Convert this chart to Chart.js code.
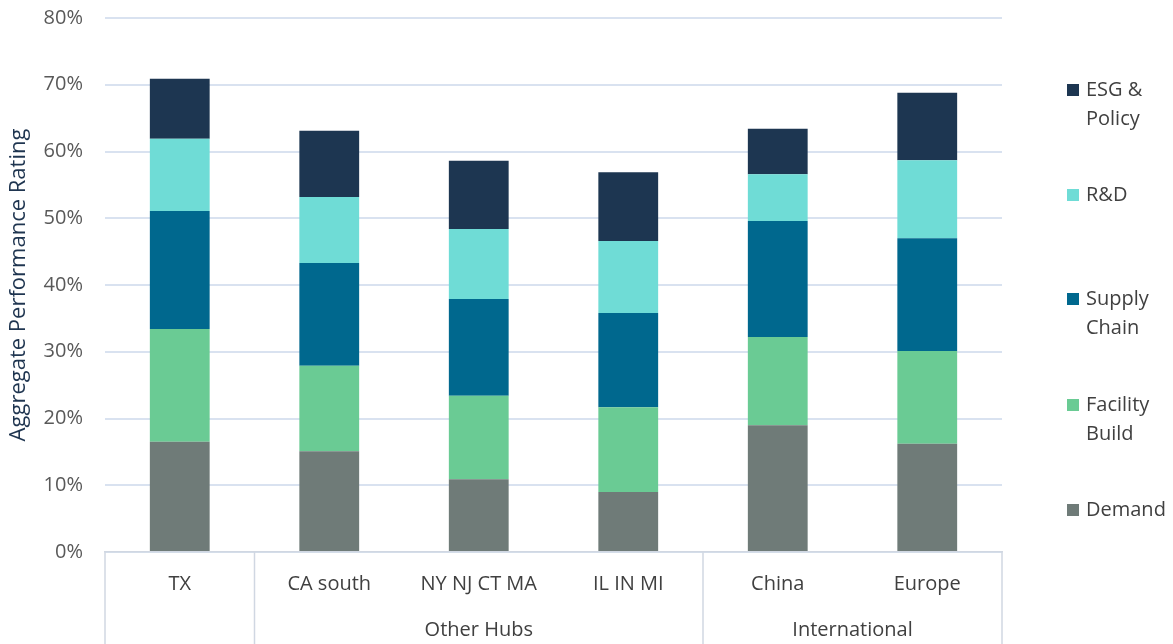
<!DOCTYPE html>
<html>
<head>
<meta charset="utf-8">
<script src="https://cdn.jsdelivr.net/npm/chart.js@4"></script>
<style>
  html, body { margin: 0; padding: 0; background: #fff; }
  #wrap { width: 1173px; height: 644px; }
</style>
</head>
<body>
<div id="wrap"><canvas id="chart"></canvas></div>
<script>
// categories and groups
const regions = ['TX', 'CA south', 'NY NJ CT MA', 'IL IN MI', 'China', 'Europe'];
const groups = [
  { label: '', from: 0, to: 0 },
  { label: 'Other Hubs', from: 1, to: 3 },
  { label: 'International', from: 4, to: 5 }
];

// series values (%)
const demand = [16.5, 15.1, 10.9, 9.0, 19.0, 16.2];
const facilityBuild = [16.9, 12.8, 12.5, 12.7, 13.2, 13.9];
const supplyChain = [17.7, 15.4, 14.5, 14.1, 17.4, 16.9];
const rnd = [10.8, 9.9, 10.5, 10.8, 7.0, 11.7];
const esgPolicy = [9.0, 9.9, 10.2, 10.3, 6.8, 10.1];

const fontFamily = '"Liberation Sans Narrow", "Open Sans", sans-serif';
const textColor = '#595959';

// legend drawn on the right, top item first
const legendPlugin = {
  id: 'sideLegend',
  afterDraw(chart) {
    const ctx = chart.ctx;
    const rows = [
      { ds: 4, lines: ['ESG &', 'Policy'], y: 90 },
      { ds: 3, lines: ['R&D'], y: 195 },
      { ds: 2, lines: ['Supply', 'Chain'], y: 299 },
      { ds: 1, lines: ['Facility', 'Build'], y: 405 },
      { ds: 0, lines: ['Demand'], y: 510 }
    ];
    ctx.save();
    ctx.font = '20px ' + fontFamily;
    ctx.textBaseline = 'middle';
    rows.forEach(r => {
      ctx.fillStyle = chart.data.datasets[r.ds].backgroundColor;
      ctx.fillRect(1067, r.y - 6, 12, 12);
      ctx.fillStyle = '#404040';
      r.lines.forEach((t, i) => ctx.fillText(t, 1086, r.y + i * 29));
    });
    ctx.restore();
  }
};

// group dividers and labels under the x axis
const groupAxisPlugin = {
  id: 'groupAxis',
  afterDraw(chart) {
    const ctx = chart.ctx;
    const x = chart.scales.x;
    const half = (x.getPixelForValue(1) - x.getPixelForValue(0)) / 2;
    const top = chart.chartArea.bottom;
    ctx.save();
    ctx.strokeStyle = '#d0d7e2';
    ctx.lineWidth = 1.5;
    const edges = [];
    groups.forEach(g => {
      edges.push(x.getPixelForValue(g.from) - half);
    });
    edges.push(x.getPixelForValue(groups[groups.length - 1].to) + half);
    edges.forEach(px => {
      ctx.beginPath();
      ctx.moveTo(px, top);
      ctx.lineTo(px, chart.height);
      ctx.stroke();
    });
    ctx.fillStyle = '#404040';
    ctx.font = '20px ' + fontFamily;
    ctx.textAlign = 'center';
    ctx.textBaseline = 'middle';
    groups.forEach(g => {
      if (!g.label) return;
      const cx = (x.getPixelForValue(g.from) + x.getPixelForValue(g.to)) / 2;
      ctx.fillText(g.label, cx, 630);
    });
    ctx.restore();
  }
};

new Chart(document.getElementById('chart'), {
  type: 'bar',
  data: {
    labels: regions,
    datasets: [
      { label: 'Demand', data: demand, backgroundColor: '#6f7b78' },
      { label: 'Facility Build', data: facilityBuild, backgroundColor: '#6acb94' },
      { label: 'Supply Chain', data: supplyChain, backgroundColor: '#00688e' },
      { label: 'R&D', data: rnd, backgroundColor: '#6fdcd6' },
      { label: 'ESG & Policy', data: esgPolicy, backgroundColor: '#1d3651' }
    ]
  },
  options: {
    responsive: true,
    maintainAspectRatio: false,
    animation: false,
    datasets: {
      bar: { categoryPercentage: 1, barPercentage: 0.4, borderWidth: 0 }
    },
    layout: { padding: { top: 18, right: 171, bottom: 0, left: 0 } },
    plugins: {
      legend: { display: false },
      tooltip: { enabled: false }
    },
    scales: {
      x: {
        stacked: true,
        grid: { display: false },
        border: { display: true, color: '#d0d7e2', width: 1.5 },
        ticks: {
          color: '#404040',
          font: { family: fontFamily, size: 20 },
          padding: 12,
          maxRotation: 0
        },
        afterFit(scale) { scale.height = 92; }
      },
      y: {
        stacked: true,
        min: 0,
        max: 80,
        grid: { color: '#d9e2f0', lineWidth: 2, drawTicks: false },
        border: { display: false },
        ticks: {
          stepSize: 10,
          color: textColor,
          padding: 22,
          font: { family: fontFamily, size: 20 },
          callback: v => v + '%'
        },
        title: {
          display: true,
          text: 'Aggregate Performance Rating',
          color: '#1f3550',
          font: { family: fontFamily, size: 22 },
          padding: { top: 6, bottom: 4 }
        },
        afterFit(scale) {
          scale.width = 105;
          scale.paddingTop = 0;
          scale.paddingBottom = 0;
        }
      }
    }
  },
  plugins: [legendPlugin, groupAxisPlugin]
});
</script>
</body>
</html>
